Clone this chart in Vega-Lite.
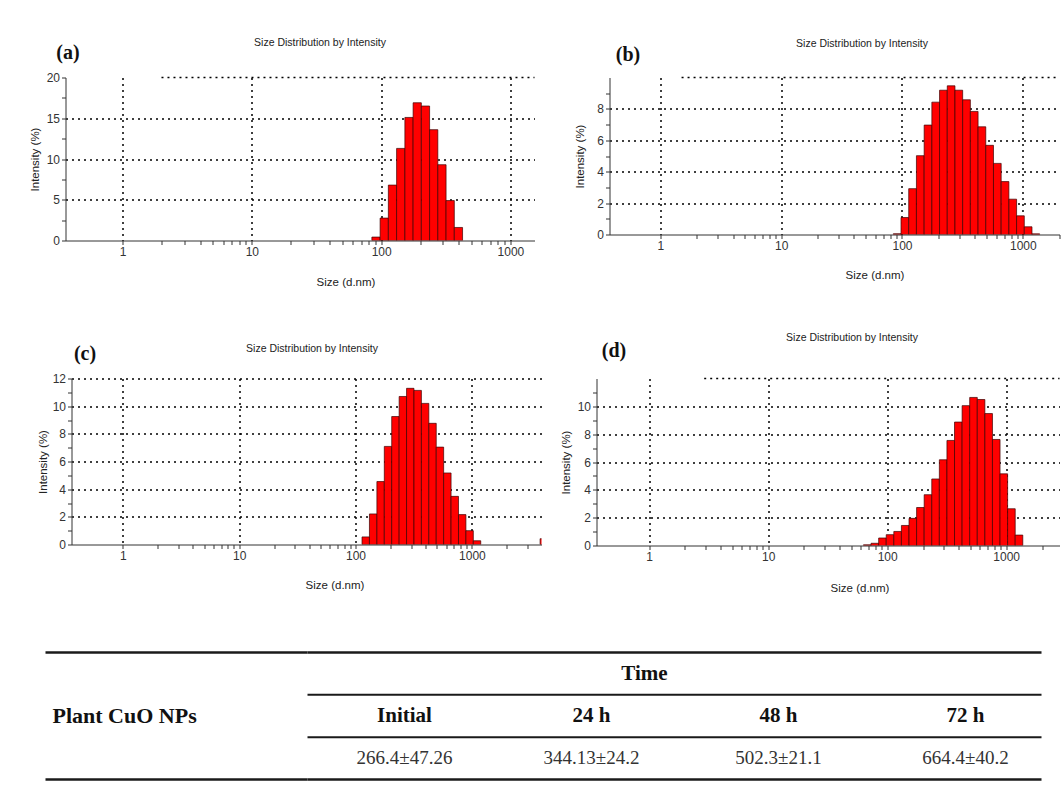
{
  "$schema": "https://vega.github.io/schema/vega-lite/v6.json",
  "background": "white",
  "padding": {"left": 19.5, "top": 19.5, "right": 0, "bottom": 0},
  "spacing": 10,
  "config": {
    "view": {"stroke": null},
    "font": "Liberation Sans",
    "axis": {
      "labelFont": "Liberation Sans", "titleFont": "Liberation Sans",
      "labelColor": "#333", "titleColor": "#222", "labelFontSize": 12, "titleFontSize": 11.5,
      "titleFontWeight": "normal", "domainColor": "#333", "tickColor": "#333",
      "gridColor": "#000", "gridDash": [2, 4], "gridWidth": 1.5,
      "labelOverlap": false, "labelFlush": false
    }
  },
  "datasets": {
    "a": [
      {"lo": 84.8, "hi": 98.2, "pct": 0.42},
      {"lo": 98.2, "hi": 113.7, "pct": 2.75},
      {"lo": 113.7, "hi": 131.7, "pct": 6.8},
      {"lo": 131.7, "hi": 152.6, "pct": 11.3},
      {"lo": 152.6, "hi": 176.7, "pct": 15.1},
      {"lo": 176.7, "hi": 204.6, "pct": 16.9},
      {"lo": 204.6, "hi": 237.0, "pct": 16.5},
      {"lo": 237.0, "hi": 274.4, "pct": 13.6},
      {"lo": 274.4, "hi": 317.8, "pct": 9.3},
      {"lo": 317.8, "hi": 368.0, "pct": 4.9},
      {"lo": 368.0, "hi": 426.2, "pct": 1.6}
    ],
    "b": [
      {"lo": 84.8, "hi": 98.2, "pct": 0.05},
      {"lo": 98.2, "hi": 113.7, "pct": 1.08},
      {"lo": 113.7, "hi": 131.7, "pct": 2.92},
      {"lo": 131.7, "hi": 152.6, "pct": 5.02},
      {"lo": 152.6, "hi": 176.7, "pct": 6.97},
      {"lo": 176.7, "hi": 204.6, "pct": 8.43},
      {"lo": 204.6, "hi": 237.0, "pct": 9.19},
      {"lo": 237.0, "hi": 274.4, "pct": 9.47},
      {"lo": 274.4, "hi": 317.8, "pct": 9.19},
      {"lo": 317.8, "hi": 368.0, "pct": 8.58},
      {"lo": 368.0, "hi": 426.2, "pct": 7.84},
      {"lo": 426.2, "hi": 493.6, "pct": 6.86},
      {"lo": 493.6, "hi": 571.6, "pct": 5.68},
      {"lo": 571.6, "hi": 661.9, "pct": 4.53},
      {"lo": 661.9, "hi": 766.6, "pct": 3.37},
      {"lo": 766.6, "hi": 887.8, "pct": 2.25},
      {"lo": 887.8, "hi": 1028, "pct": 1.19},
      {"lo": 1028, "hi": 1190.6, "pct": 0.49},
      {"lo": 1190.6, "hi": 1378.6, "pct": 0.04}
    ],
    "c": [
      {"lo": 113.7, "hi": 131.7, "pct": 0.55},
      {"lo": 131.7, "hi": 152.6, "pct": 2.21},
      {"lo": 152.6, "hi": 176.7, "pct": 4.55},
      {"lo": 176.7, "hi": 204.6, "pct": 7.09},
      {"lo": 204.6, "hi": 237.0, "pct": 9.25},
      {"lo": 237.0, "hi": 274.4, "pct": 10.7},
      {"lo": 274.4, "hi": 317.8, "pct": 11.29},
      {"lo": 317.8, "hi": 368.0, "pct": 11.14},
      {"lo": 368.0, "hi": 426.2, "pct": 10.2},
      {"lo": 426.2, "hi": 493.6, "pct": 8.76},
      {"lo": 493.6, "hi": 571.6, "pct": 7.04},
      {"lo": 571.6, "hi": 661.9, "pct": 5.17},
      {"lo": 661.9, "hi": 766.6, "pct": 3.48},
      {"lo": 766.6, "hi": 887.8, "pct": 2.16},
      {"lo": 887.8, "hi": 1028, "pct": 1.0},
      {"lo": 1028, "hi": 1190.6, "pct": 0.27},
      {"lo": 3852, "hi": 4461, "pct": 0.42}
    ],
    "d": [
      {"lo": 63.2, "hi": 73.2, "pct": 0.05},
      {"lo": 73.2, "hi": 84.8, "pct": 0.16},
      {"lo": 84.8, "hi": 98.2, "pct": 0.54},
      {"lo": 98.2, "hi": 113.7, "pct": 0.78},
      {"lo": 113.7, "hi": 131.7, "pct": 1.01},
      {"lo": 131.7, "hi": 152.6, "pct": 1.44},
      {"lo": 152.6, "hi": 176.7, "pct": 1.95},
      {"lo": 176.7, "hi": 204.6, "pct": 2.73},
      {"lo": 204.6, "hi": 237.0, "pct": 3.65},
      {"lo": 237.0, "hi": 274.4, "pct": 4.78},
      {"lo": 274.4, "hi": 317.8, "pct": 6.16},
      {"lo": 317.8, "hi": 368.0, "pct": 7.55},
      {"lo": 368.0, "hi": 426.2, "pct": 8.87},
      {"lo": 426.2, "hi": 493.6, "pct": 10.05},
      {"lo": 493.6, "hi": 571.6, "pct": 10.64},
      {"lo": 571.6, "hi": 661.9, "pct": 10.49},
      {"lo": 661.9, "hi": 766.6, "pct": 9.48},
      {"lo": 766.6, "hi": 887.8, "pct": 7.62},
      {"lo": 887.8, "hi": 1028, "pct": 5.15},
      {"lo": 1028, "hi": 1190.6, "pct": 2.64},
      {"lo": 1190.6, "hi": 1378.6, "pct": 0.75}
    ],
    "tblHead": [
      {"row": "head", "col": "Initial"},
      {"row": "head", "col": "24 h"},
      {"row": "head", "col": "48 h"},
      {"row": "head", "col": "72 h"}
    ],
    "tblVal": [
      {"row": "val", "col": "Initial", "text": "266.4±47.26"},
      {"row": "val", "col": "24 h", "text": "344.13±24.2"},
      {"row": "val", "col": "48 h", "text": "502.3±21.1"},
      {"row": "val", "col": "72 h", "text": "664.4±40.2"}
    ]
  },
  "vconcat": [
    {
      "hconcat": [
        {
          "width": 20, "height": 10,
          "data": {"values": [{}]},
          "mark": {"type": "point", "opacity": 0},
          "encoding": {}
        },
        {
          "hconcat": [
            {
              "width": 469, "height": 163,
              "data": {"name": "a"},
              "layer": [
                {
                  "mark": {"type": "bar", "color": "#ff0000", "stroke": "#3c0000", "strokeWidth": 0.7, "clip": true},
                  "encoding": {
                    "x": {"field": "lo", "type": "quantitative",
                      "scale": {"type": "log", "domain": [0.362, 1535], "nice": false},
                      "axis": {"orient": "bottom", "values": [1,2,3,4,5,6,7,8,9,10,20,30,40,50,60,70,80,90,100,200,300,400,500,600,700,800,900,1000],
                        "format": "d", "labelExpr": "indexof([1,10,100,1000], datum.value) >= 0 ? datum.label : ''",
                        "tickSize": 4, "grid": true,
                        "gridOpacity": {"condition": {"test": "indexof([1,10,100,1000], datum.value) >= 0", "value": 1}, "value": 0},
                        "title": "Size (d.nm)", "titleX": 280, "titleY": 42, "titleBaseline": "middle", "titleAlign": "center"}},
                    "x2": {"field": "hi"},
                    "y": {"field": "pct", "type": "quantitative",
                      "scale": {"domain": [0, 20], "nice": false},
                      "axis": {"values": [0,2.5,5,7.5,10,12.5,15,17.5,20],
                        "labelExpr": "datum.value % 5 == 0 ? datum.label : ''", "tickSize": 4, "grid": true,
                        "gridOpacity": {"condition": {"test": "datum.value % 5 == 0 && datum.value > 0 && datum.value < 20", "value": 1}, "value": 0},
                        "title": "Intensity (%)", "titleX": -30, "titleY": 81.5, "titleBaseline": "middle", "titleAlign": "center", "titleAngle": 270}},
                    "y2": {"datum": 0}
                  }
                },
                {
                  "data": {"values": [{"from": 2.0, "to": 1535, "level": 20}]},
                  "mark": {"type": "rule", "strokeDash": [2, 4], "strokeWidth": 1.5, "color": "#000"},
                  "encoding": {
                    "x": {"field": "from", "type": "quantitative", "axis": null},
                    "x2": {"field": "to"},
                    "y": {"field": "level", "type": "quantitative", "axis": null}
                  }
                },
                {
                  "mark": {"type": "bar", "opacity": 0},
                  "encoding": {
                    "x": {"field": "lo", "type": "quantitative",
                      "axis": {"orient": "top", "offset": 58, "domainColor": "white", "labels": false, "ticks": false, "grid": false,
                        "title": "Size Distribution by Intensity", "titleX": 254, "titleY": 23, "titleBaseline": "middle", "titleAlign": "center", "titleFontSize": 10.5}},
                    "x2": {"field": "hi"},
                    "y": {"field": "pct", "type": "quantitative",
                      "axis": {"orient": "left", "offset": 46, "domainColor": "white", "labels": false, "ticks": false, "grid": false,
                        "title": "(a)", "titleX": 48, "titleY": -25, "titleAngle": 0, "titleBaseline": "middle", "titleAlign": "center",
                        "titleFont": "Liberation Serif", "titleFontSize": 20, "titleFontWeight": "bold", "titleColor": "#111"}},
                    "y2": {"datum": 0}
                  }
                },
                {
                  "mark": {"type": "bar", "opacity": 0},
                  "encoding": {
                    "x": {"field": "lo", "type": "quantitative",
                      "axis": {"orient": "bottom", "offset": 55, "domainColor": "white", "labels": false, "ticks": false, "grid": false, "title": null}},
                    "x2": {"field": "hi"},
                    "y": {"field": "pct", "type": "quantitative", "axis": null},
                    "y2": {"datum": 0}
                  }
                }
              ],
              "resolve": {"axis": {"x": "independent", "y": "independent"}}
            },
            {
              "width": 450, "height": 157,
              "data": {"name": "b"},
              "layer": [
                {
                  "mark": {"type": "bar", "color": "#ff0000", "stroke": "#3c0000", "strokeWidth": 0.7, "clip": true},
                  "encoding": {
                    "x": {"field": "lo", "type": "quantitative",
                      "scale": {"type": "log", "domain": [0.38, 2011], "nice": false},
                      "axis": {"orient": "bottom", "values": [1,2,3,4,5,6,7,8,9,10,20,30,40,50,60,70,80,90,100,200,300,400,500,600,700,800,900,1000,2000],
                        "format": "d", "labelExpr": "indexof([1,10,100,1000], datum.value) >= 0 ? datum.label : ''",
                        "tickSize": 4, "grid": true,
                        "gridOpacity": {"condition": {"test": "indexof([1,10,100,1000], datum.value) >= 0", "value": 1}, "value": 0},
                        "title": "Size (d.nm)", "titleX": 265, "titleY": 41, "titleBaseline": "middle", "titleAlign": "center"}},
                    "x2": {"field": "hi"},
                    "y": {"field": "pct", "type": "quantitative",
                      "scale": {"domain": [0, 10], "nice": false},
                      "axis": {"values": [0,1,2,3,4,5,6,7,8,9],
                        "labelExpr": "datum.value % 2 == 0 ? datum.label : ''", "tickSize": 4, "grid": true,
                        "gridOpacity": {"condition": {"test": "datum.value % 2 == 0 && datum.value > 0", "value": 1}, "value": 0},
                        "title": "Intensity (%)", "titleX": -29, "titleY": 78.5, "titleBaseline": "middle", "titleAlign": "center", "titleAngle": 270}},
                    "y2": {"datum": 0}
                  }
                },
                {
                  "data": {"values": [{"from": 1.5, "to": 2011, "level": 10}]},
                  "mark": {"type": "rule", "strokeDash": [2, 4], "strokeWidth": 1.5, "color": "#000"},
                  "encoding": {
                    "x": {"field": "from", "type": "quantitative", "axis": null},
                    "x2": {"field": "to"},
                    "y": {"field": "level", "type": "quantitative", "axis": null}
                  }
                },
                {
                  "mark": {"type": "bar", "opacity": 0},
                  "encoding": {
                    "x": {"field": "lo", "type": "quantitative",
                      "axis": {"orient": "top", "domain": false, "labels": false, "ticks": false, "grid": false,
                        "title": "Size Distribution by Intensity", "titleX": 252, "titleY": -34, "titleBaseline": "middle", "titleAlign": "center", "titleFontSize": 10.5}},
                    "x2": {"field": "hi"},
                    "y": {"field": "pct", "type": "quantitative",
                      "axis": {"orient": "left", "domain": false, "labels": false, "ticks": false, "grid": false,
                        "title": "(b)", "titleX": 18, "titleY": -23, "titleAngle": 0, "titleBaseline": "middle", "titleAlign": "center",
                        "titleFont": "Liberation Serif", "titleFontSize": 20, "titleFontWeight": "bold", "titleColor": "#111"}},
                    "y2": {"datum": 0}
                  }
                }
              ],
              "resolve": {"axis": {"x": "independent", "y": "independent"}}
            }
          ],
          "spacing": 75,
          "bounds": "flush"
        }
      ],
      "spacing": 0,
      "bounds": "flush"
    },
    {
      "hconcat": [
        {
          "width": 26, "height": 10,
          "data": {"values": [{}]},
          "mark": {"type": "point", "opacity": 0},
          "encoding": {}
        },
        {
          "hconcat": [
            {
              "width": 470, "height": 166,
              "data": {"name": "c"},
              "layer": [
                {
                  "mark": {"type": "bar", "color": "#ff0000", "stroke": "#3c0000", "strokeWidth": 0.7, "clip": true},
                  "encoding": {
                    "x": {"field": "lo", "type": "quantitative",
                      "scale": {"type": "log", "domain": [0.363, 3960], "nice": false},
                      "axis": {"orient": "bottom", "values": [1,2,3,4,5,6,7,8,9,10,20,30,40,50,60,70,80,90,100,200,300,400,500,600,700,800,900,1000,2000,3000],
                        "format": "d", "labelExpr": "indexof([1,10,100,1000], datum.value) >= 0 ? datum.label : ''",
                        "tickSize": 4, "grid": true,
                        "gridOpacity": {"condition": {"test": "indexof([1,10,100,1000], datum.value) >= 0", "value": 1}, "value": 0},
                        "title": "Size (d.nm)", "titleX": 263, "titleY": 41, "titleBaseline": "middle", "titleAlign": "center"}},
                    "x2": {"field": "hi"},
                    "y": {"field": "pct", "type": "quantitative",
                      "scale": {"domain": [0, 12], "nice": false},
                      "axis": {"values": [0,1,2,3,4,5,6,7,8,9,10,11,12],
                        "labelExpr": "datum.value % 2 == 0 ? datum.label : ''", "tickSize": 4, "grid": true,
                        "gridOpacity": {"condition": {"test": "datum.value % 2 == 0 && datum.value > 0", "value": 1}, "value": 0},
                        "title": "Intensity (%)", "titleX": -28, "titleY": 83, "titleBaseline": "middle", "titleAlign": "center", "titleAngle": 270}},
                    "y2": {"datum": 0}
                  }
                },
                {
                  "mark": {"type": "bar", "opacity": 0},
                  "encoding": {
                    "x": {"field": "lo", "type": "quantitative",
                      "axis": {"orient": "top", "offset": 73, "domainColor": "white", "labels": false, "ticks": false, "grid": false,
                        "title": "Size Distribution by Intensity", "titleX": 240, "titleY": 43, "titleBaseline": "middle", "titleAlign": "center", "titleFontSize": 10.5}},
                    "x2": {"field": "hi"},
                    "y": {"field": "pct", "type": "quantitative",
                      "axis": {"orient": "left", "domain": false, "labels": false, "ticks": false, "grid": false,
                        "title": "(c)", "titleX": 13, "titleY": -25, "titleAngle": 0, "titleBaseline": "middle", "titleAlign": "center",
                        "titleFont": "Liberation Serif", "titleFontSize": 20, "titleFontWeight": "bold", "titleColor": "#111"}},
                    "y2": {"datum": 0}
                  }
                },
                {
                  "mark": {"type": "bar", "opacity": 0},
                  "encoding": {
                    "x": {"field": "lo", "type": "quantitative",
                      "axis": {"orient": "bottom", "offset": 56, "domainColor": "white", "labels": false, "ticks": false, "grid": false, "title": null}},
                    "x2": {"field": "hi"},
                    "y": {"field": "pct", "type": "quantitative", "axis": null},
                    "y2": {"datum": 0}
                  }
                }
              ],
              "resolve": {"axis": {"x": "independent", "y": "independent"}}
            },
            {
              "width": 463, "height": 167,
              "data": {"name": "d"},
              "layer": [
                {
                  "mark": {"type": "bar", "color": "#ff0000", "stroke": "#3c0000", "strokeWidth": 0.7, "clip": true},
                  "encoding": {
                    "x": {"field": "lo", "type": "quantitative",
                      "scale": {"type": "log", "domain": [0.361, 2805], "nice": false},
                      "axis": {"orient": "bottom", "values": [1,2,3,4,5,6,7,8,9,10,20,30,40,50,60,70,80,90,100,200,300,400,500,600,700,800,900,1000,2000],
                        "format": "d", "labelExpr": "indexof([1,10,100,1000], datum.value) >= 0 ? datum.label : ''",
                        "tickSize": 4, "grid": true,
                        "gridOpacity": {"condition": {"test": "indexof([1,10,100,1000], datum.value) >= 0", "value": 1}, "value": 0},
                        "title": "Size (d.nm)", "titleX": 263, "titleY": 43, "titleBaseline": "middle", "titleAlign": "center"}},
                    "x2": {"field": "hi"},
                    "y": {"field": "pct", "type": "quantitative",
                      "scale": {"domain": [0, 12], "nice": false},
                      "axis": {"values": [0,1,2,3,4,5,6,7,8,9,10,11],
                        "labelExpr": "datum.value % 2 == 0 ? datum.label : ''", "tickSize": 4, "grid": true,
                        "gridOpacity": {"condition": {"test": "datum.value % 2 == 0 && datum.value > 0", "value": 1}, "value": 0},
                        "title": "Intensity (%)", "titleX": -30, "titleY": 83.5, "titleBaseline": "middle", "titleAlign": "center", "titleAngle": 270}},
                    "y2": {"datum": 0}
                  }
                },
                {
                  "data": {"values": [{"from": 2.9, "to": 2805, "level": 12}]},
                  "mark": {"type": "rule", "strokeDash": [2, 4], "strokeWidth": 1.5, "color": "#000"},
                  "encoding": {
                    "x": {"field": "from", "type": "quantitative", "axis": null},
                    "x2": {"field": "to"},
                    "y": {"field": "level", "type": "quantitative", "axis": null}
                  }
                },
                {
                  "mark": {"type": "bar", "opacity": 0},
                  "encoding": {
                    "x": {"field": "lo", "type": "quantitative",
                      "axis": {"orient": "top", "domain": false, "labels": false, "ticks": false, "grid": false,
                        "title": "Size Distribution by Intensity", "titleX": 255, "titleY": -41, "titleBaseline": "middle", "titleAlign": "center", "titleFontSize": 10.5}},
                    "x2": {"field": "hi"},
                    "y": {"field": "pct", "type": "quantitative",
                      "axis": {"orient": "left", "domain": false, "labels": false, "ticks": false, "grid": false,
                        "title": "(d)", "titleX": 17, "titleY": -28, "titleAngle": 0, "titleBaseline": "middle", "titleAlign": "center",
                        "titleFont": "Liberation Serif", "titleFontSize": 20, "titleFontWeight": "bold", "titleColor": "#111"}},
                    "y2": {"datum": 0}
                  }
                }
              ],
              "resolve": {"axis": {"x": "independent", "y": "independent"}}
            }
          ],
          "spacing": 55,
          "bounds": "flush"
        }
      ],
      "spacing": 0,
      "bounds": "flush"
    },
    {
      "hconcat": [
        {
          "width": 262, "height": 127,
          "layer": [
            {
              "data": {"values": [{"row": "time"}]},
              "mark": {"type": "rule", "strokeWidth": 2.5, "color": "#1a1a1a"},
              "encoding": {
                "y": {"field": "row", "type": "nominal", "bandPosition": 0,
                  "scale": {"type": "band", "domain": ["time", "head", "val"], "paddingInner": 0, "paddingOuter": 0},
                  "axis": null}
              }
            },
            {
              "data": {"values": [{"row": "val"}]},
              "mark": {"type": "rule", "strokeWidth": 2.5, "color": "#1a1a1a"},
              "encoding": {"y": {"field": "row", "type": "nominal", "bandPosition": 1}}
            },
            {
              "data": {"values": [{"row": "head", "col": "label", "text": "Plant CuO NPs"}]},
              "mark": {"type": "text", "align": "left", "dx": 7, "font": "Liberation Serif", "fontSize": 22, "fontWeight": "bold", "color": "#111"},
              "encoding": {
                "x": {"field": "col", "type": "nominal", "bandPosition": 0, "scale": {"type": "band", "paddingInner": 0, "paddingOuter": 0}, "axis": null},
                "y": {"field": "row", "type": "nominal"},
                "text": {"field": "text"}
              }
            }
          ]
        },
        {
          "width": 734, "height": 127,
          "layer": [
            {
              "data": {"values": [{"row": "time"}]},
              "mark": {"type": "rule", "strokeWidth": 2.5, "color": "#1a1a1a"},
              "encoding": {
                "y": {"field": "row", "type": "nominal", "bandPosition": 0,
                  "scale": {"type": "band", "domain": ["time", "head", "val"], "paddingInner": 0, "paddingOuter": 0}, "axis": null}
              }
            },
            {
              "data": {"values": [{"row": "head"}, {"row": "val"}]},
              "mark": {"type": "rule", "strokeWidth": 2, "color": "#1a1a1a"},
              "encoding": {"y": {"field": "row", "type": "nominal", "bandPosition": 0}}
            },
            {
              "data": {"values": [{"row": "val"}]},
              "mark": {"type": "rule", "strokeWidth": 2.5, "color": "#1a1a1a"},
              "encoding": {"y": {"field": "row", "type": "nominal", "bandPosition": 1}}
            },
            {
              "data": {"values": [{"row": "time", "text": "Time"}]},
              "mark": {"type": "text", "dx": -30, "font": "Liberation Serif", "fontSize": 21, "fontWeight": "bold", "color": "#111"},
              "encoding": {"y": {"field": "row", "type": "nominal"}, "text": {"field": "text"}}
            },
            {
              "data": {"name": "tblHead"},
              "mark": {"type": "text", "font": "Liberation Serif", "fontSize": 21, "fontWeight": "bold", "color": "#111"},
              "encoding": {
                "x": {"field": "col", "type": "nominal",
                  "scale": {"type": "band", "domain": ["Initial", "24 h", "48 h", "72 h"], "range": [3.5, 751.5], "paddingInner": 0, "paddingOuter": 0},
                  "axis": {"orient": "top", "offset": 42, "domainColor": "white", "labels": false, "ticks": false, "grid": false, "title": null}},
                "y": {"field": "row", "type": "nominal"},
                "text": {"field": "col"}
              }
            },
            {
              "data": {"name": "tblVal"},
              "mark": {"type": "text", "font": "Liberation Serif", "fontSize": 19, "color": "#333"},
              "encoding": {
                "x": {"field": "col", "type": "nominal"},
                "y": {"field": "row", "type": "nominal"},
                "text": {"field": "text"}
              }
            }
          ]
        }
      ],
      "spacing": 0,
      "bounds": "flush"
    }
  ]
}
